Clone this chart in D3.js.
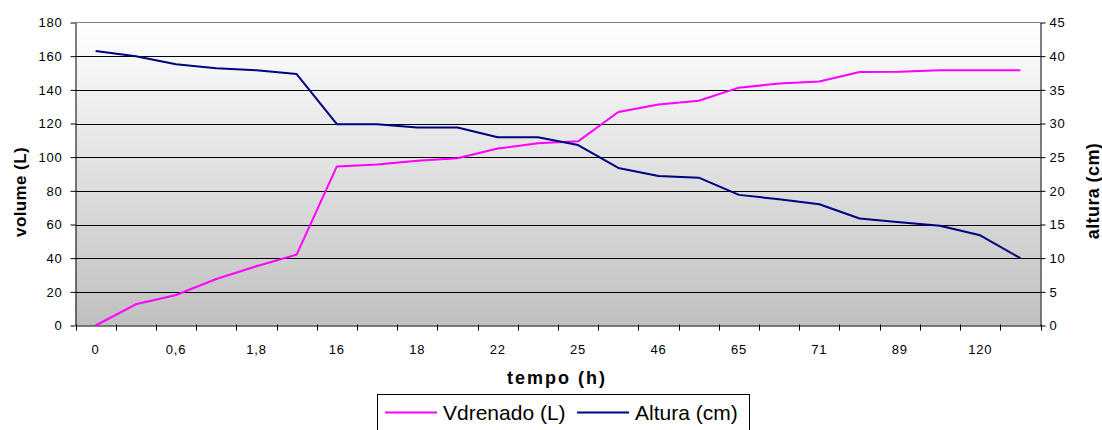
<!DOCTYPE html>
<html>
<head>
<meta charset="utf-8">
<script src="https://cdn.jsdelivr.net/npm/d3@7"></script>
<style>
  html, body { margin: 0; padding: 0; background: #fff; }
  svg { display: block; font-family: "Liberation Sans", Arial, sans-serif; }
</style>
</head>
<body>
<svg id="chart" width="1102" height="430"></svg>
<script>
// Sampling times (h); only every other category carries a label on the axis.
const categories = ["0", null, "0,6", null, "1,8", null, "16", null, "18", null, "22", null,
                    "25", null, "46", null, "65", null, "71", null, "89", null, "120", null];

// Drained volume (L) — left axis
const vdrenado = [0, 12.6, 18.1, 27.6, 35.2, 42.1, 94.5, 95.7, 97.8, 99.4, 105.1, 108.3,
                  109.4, 126.8, 131.3, 133.5, 141.3, 143.7, 144.9, 150.6, 150.8, 151.6, 151.6, 151.6];

// Water height (cm) — right axis
const altura = [40.75, 40.0, 38.8, 38.2, 37.9, 37.35, 29.9, 29.9, 29.4, 29.4, 27.95, 27.95,
                26.8, 23.4, 22.2, 21.95, 19.4, 18.75, 18.0, 15.9, 15.35, 14.8, 13.4, 10.0];

const leftTicks = [0, 20, 40, 60, 80, 100, 120, 140, 160, 180];
const rightTicks = [0, 5, 10, 15, 20, 25, 30, 35, 40, 45];

const svg = d3.select("#chart");
const plot = { left: 75.5, right: 1040.5, top: 22.5, bottom: 325.5 };

const x = d3.scaleBand()
  .domain(categories.map((_, i) => i))
  .range([plot.left, plot.right])
  .paddingInner(0).paddingOuter(0);
const yL = d3.scaleLinear().domain([0, 180]).range([plot.bottom, plot.top]);
const yR = d3.scaleLinear().domain([0, 45]).range([plot.bottom, plot.top]);

// Plot background: light-to-grey vertical gradient
const defs = svg.append("defs");
const grad = defs.append("linearGradient")
  .attr("id", "bg").attr("x1", 0).attr("y1", 0).attr("x2", 0).attr("y2", 1);
grad.append("stop").attr("offset", "0%").attr("stop-color", "#ffffff");
grad.append("stop").attr("offset", "100%").attr("stop-color", "#c0c0c0");

svg.append("rect")
  .attr("x", plot.left).attr("y", plot.top)
  .attr("width", plot.right - plot.left).attr("height", plot.bottom - plot.top)
  .attr("fill", "url(#bg)");

// Top border of the plot area
svg.append("line")
  .attr("x1", plot.left).attr("x2", plot.right)
  .attr("y1", plot.top).attr("y2", plot.top)
  .attr("stroke", "#808080").attr("stroke-width", 1);

// Horizontal gridlines
svg.append("g").selectAll("line")
  .data(leftTicks.filter(v => v > 0 && v < 180))
  .join("line")
  .attr("x1", plot.left).attr("x2", plot.right)
  .attr("y1", d => Math.round(yL(d)) + 0.5).attr("y2", d => Math.round(yL(d)) + 0.5)
  .attr("stroke", "#000").attr("stroke-width", 1);

// Left axis
const axL = svg.append("g")
  .attr("transform", `translate(${plot.left},0)`)
  .call(d3.axisLeft(yL).tickValues(leftTicks).tickSize(5).tickSizeOuter(0).tickPadding(8));
// Right axis
const axR = svg.append("g")
  .attr("transform", `translate(${plot.right},0)`)
  .call(d3.axisRight(yR).tickValues(rightTicks).tickSize(5).tickSizeOuter(0).tickPadding(4));

[axL, axR].forEach(g => {
  g.select(".domain").attr("stroke", "#000");
  g.selectAll(".tick line").attr("stroke", "#000");
  g.selectAll(".tick text")
    .attr("font-family", "'Liberation Sans', Arial, sans-serif")
    .attr("font-size", 13).attr("fill", "#000")
    .attr("letter-spacing", 0.8);
});

// Bottom axis: labels centred on categories, tick marks on category boundaries
const axB = svg.append("g")
  .attr("transform", `translate(0,${plot.bottom})`)
  .call(d3.axisBottom(x)
    .tickValues(x.domain().filter(i => categories[i] !== null))
    .tickFormat(i => categories[i])
    .tickSize(0).tickSizeOuter(0).tickPadding(19));
axB.select(".domain").attr("stroke", "#000");
axB.selectAll(".tick text")
  .attr("font-family", "'Liberation Sans', Arial, sans-serif")
  .attr("font-size", 13).attr("fill", "#000")
  .attr("letter-spacing", 0.8);

const boundaries = x.domain().map(i => x(i)).concat([x.range()[1]]);
axB.append("g").selectAll("line")
  .data(boundaries)
  .join("line")
  .attr("x1", d => Math.round(d) + 0.5).attr("x2", d => Math.round(d) + 0.5)
  .attr("y1", -1).attr("y2", 5)
  .attr("stroke", "#000");

// Series lines
const cx = i => x(i) + x.bandwidth() / 2;
const lineL = d3.line().x((d, i) => cx(i)).y(d => yL(d));
const lineR = d3.line().x((d, i) => cx(i)).y(d => yR(d));

svg.append("path")
  .datum(vdrenado)
  .attr("d", lineL)
  .attr("fill", "none").attr("stroke", "#ff00ff").attr("stroke-width", 2)
  .attr("stroke-linejoin", "round");

svg.append("path")
  .datum(altura)
  .attr("d", lineR)
  .attr("fill", "none").attr("stroke", "#000080").attr("stroke-width", 2)
  .attr("stroke-linejoin", "round");

// Axis titles
svg.append("text")
  .attr("transform", "translate(26,192) rotate(-90)")
  .attr("text-anchor", "middle")
  .attr("font-size", 17).attr("font-weight", "bold")
  .attr("letter-spacing", 0.4)
  .text("volume (L)");

svg.append("text")
  .attr("transform", "translate(1099,191) rotate(-90)")
  .attr("text-anchor", "middle")
  .attr("font-size", 18).attr("font-weight", "bold")
  .attr("letter-spacing", 0.4)
  .text("altura (cm)");

svg.append("text")
  .attr("x", 557).attr("y", 384)
  .attr("text-anchor", "middle")
  .attr("font-size", 18).attr("font-weight", "bold")
  .attr("letter-spacing", 2)
  .text("tempo (h)");

// Legend
const legend = svg.append("g");
legend.append("rect")
  .attr("x", 377.5).attr("y", 394.5)
  .attr("width", 372).attr("height", 44)
  .attr("fill", "#fff").attr("stroke", "#000").attr("stroke-width", 1);

const legendItems = [
  { label: "Vdrenado (L)", color: "#ff00ff", x0: 385 },
  { label: "Altura (cm)", color: "#000080", x0: 577 }
];
legendItems.forEach(it => {
  legend.append("line")
    .attr("x1", it.x0).attr("x2", it.x0 + 52)
    .attr("y1", 412.5).attr("y2", 412.5)
    .attr("stroke", it.color).attr("stroke-width", 2);
  legend.append("text")
    .attr("x", it.x0 + 58).attr("y", 420)
    .attr("font-size", 21)
    .text(it.label);
});
</script>
</body>
</html>
